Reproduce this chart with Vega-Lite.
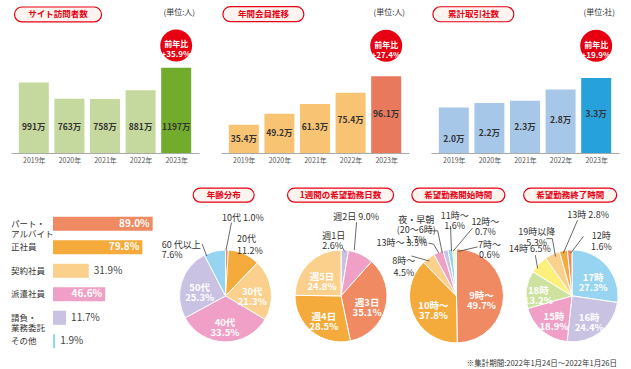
{
"$schema": "https://vega.github.io/schema/vega-lite/v6.json",
"padding": {"left": 11, "top": 4, "right": 4, "bottom": 2},
"config": {"font": "Noto Sans CJK JP", "view": {"stroke": null}, "axis": {"domain": false, "ticks": false, "labels": false, "grid": false}, "text": {"color": "#333333"}},
"title": {"text": "※集計期間:2022年1月24日～2022年1月26日", "orient": "bottom", "anchor": "end", "fontSize": 7.5, "fontWeight": "normal", "color": "#333333", "offset": 5, "dx": -10},
"spacing": 22,
"vconcat": [
{"hconcat": [
 {"width": 188, "height": 146,
  "data": {"values": [
   {"year": 2019, "v": 991, "label": "991万"},
   {"year": 2020, "v": 763, "label": "763万"},
   {"year": 2021, "v": 758, "label": "758万"},
   {"year": 2022, "v": 881, "label": "881万"},
   {"year": 2023, "v": 1197, "label": "1197万", "badge": "前年比\n+35.9%"}]},
  "layer": [
   {"mark": {"type": "bar", "size": 30},
    "encoding": {
     "x": {"field": "year", "type": "quantitative", "scale": {"domain": [2018.5, 2023.5], "nice": false, "zero": false}, "axis": {"domain": true, "labels": true, "values": [2019,2020,2021,2022,2023], "labelExpr": "datum.value + '年'", "title": null, "domainColor": "#aaaaaa", "labelFontSize": 7, "labelColor": "#555555", "labelPadding": 3}},
     "y": {"field": "v", "type": "quantitative", "title": null, "scale": {"domain": [0, 2050], "nice": false}},
     "color": {"condition": {"test": "datum.year == 2023", "value": "#72ac2c"}, "value": "#c5d89d"}}},
   {"mark": {"type": "text", "fontSize": 8.5, "fontWeight": "bold"},
    "encoding": {"x": {"field": "year", "type": "quantitative"}, "y": {"datum": 365}, "text": {"field": "label"}}},
   {"transform": [{"filter": "datum.year == 2023"}],
    "mark": {"type": "point", "shape": "circle", "size": 1020, "filled": true, "color": "#e60012", "opacity": 1},
    "encoding": {"x": {"field": "year", "type": "quantitative"}, "y": {"datum": 1510}}},
   {"transform": [{"filter": "datum.year == 2023"}],
    "mark": {"type": "text", "fontSize": 8, "fontWeight": "bold", "color": "white", "lineBreak": "\n", "lineHeight": 10},
    "encoding": {"x": {"field": "year", "type": "quantitative"}, "y": {"datum": 1510}, "text": {"field": "badge"}}},
   {"data": {"values": [{"t": "サイト訪問者数"}]},
    "mark": {"type": "point", "shape": "M -0.828 -0.172 L 0.828 -0.172 A 0.172 0.172 0 0 1 0.828 0.172 L -0.828 0.172 A 0.172 0.172 0 0 1 -0.828 -0.172 Z", "size": 7569, "filled": true, "fill": "#fff4f0", "stroke": "#e60012", "strokeWidth": 1.2, "opacity": 1},
    "encoding": {"x": {"datum": 2019.68}, "y": {"datum": 1945}}},
   {"data": {"values": [{"t": "サイト訪問者数"}]},
    "mark": {"type": "text", "fontSize": 8.5, "fontWeight": "bold", "color": "#e60012"},
    "encoding": {"x": {"datum": 2019.68}, "y": {"datum": 1945}, "text": {"field": "t"}}},
   {"data": {"values": [{"t": "(単位:人)"}]},
    "mark": {"type": "text", "fontSize": 8, "align": "right"},
    "encoding": {"x": {"datum": 2023.53}, "y": {"datum": 1966}, "text": {"field": "t"}}}
  ]},
 {"width": 188, "height": 146,
  "data": {"values": [
   {"year": 2019, "v": 35.4, "label": "35.4万"},
   {"year": 2020, "v": 49.2, "label": "49.2万"},
   {"year": 2021, "v": 61.3, "label": "61.3万"},
   {"year": 2022, "v": 75.4, "label": "75.4万"},
   {"year": 2023, "v": 96.1, "label": "96.1万", "badge": "前年比\n+27.4%"}]},
  "resolve": {"scale": {"y": "independent"}},
  "layer": [
   {"mark": {"type": "bar", "size": 30},
    "encoding": {
     "x": {"field": "year", "type": "quantitative", "scale": {"domain": [2018.5, 2023.5], "nice": false, "zero": false}, "axis": {"domain": true, "labels": true, "values": [2019,2020,2021,2022,2023], "labelExpr": "datum.value + '年'", "title": null, "domainColor": "#aaaaaa", "labelFontSize": 7, "labelColor": "#555555", "labelPadding": 3}},
     "y": {"field": "v", "type": "quantitative", "title": null, "scale": {"domain": [0, 183], "nice": false}},
     "color": {"condition": {"test": "datum.year == 2023", "value": "#e8795c"}, "value": "#f9c374"}}},
   {"mark": {"type": "text", "fontSize": 8.5, "fontWeight": "bold"},
    "encoding": {"x": {"field": "year", "type": "quantitative"}, "y": {"field": "year", "type": "quantitative", "title": null, "scale": {"domain": [2016.76, 2040.12], "nice": false, "zero": false}}, "text": {"field": "label"}}},
   {"transform": [{"filter": "datum.year == 2023"}],
    "mark": {"type": "point", "shape": "circle", "size": 1020, "filled": true, "color": "#e60012", "opacity": 1},
    "encoding": {"x": {"field": "year", "type": "quantitative"}, "y": {"datum": 134.5, "scale": {"domain": [0, 183], "nice": false}}}},
   {"transform": [{"filter": "datum.year == 2023"}],
    "mark": {"type": "text", "fontSize": 8, "fontWeight": "bold", "color": "white", "lineBreak": "\n", "lineHeight": 10},
    "encoding": {"x": {"field": "year", "type": "quantitative"}, "y": {"datum": 134.5, "scale": {"domain": [0, 183], "nice": false}}, "text": {"field": "badge"}}},
   {"data": {"values": [{"t": "年間会員推移"}]},
    "mark": {"type": "point", "shape": "M -0.815 -0.185 L 0.815 -0.185 A 0.185 0.185 0 0 1 0.815 0.185 L -0.815 0.185 A 0.185 0.185 0 0 1 -0.815 -0.185 Z", "size": 6561, "filled": true, "fill": "#fff4f0", "stroke": "#e60012", "strokeWidth": 1.2, "opacity": 1},
    "encoding": {"x": {"datum": 2019.55}, "y": {"datum": 174, "scale": {"domain": [0, 183], "nice": false}}}},
   {"data": {"values": [{"t": "年間会員推移"}]},
    "mark": {"type": "text", "fontSize": 8.5, "fontWeight": "bold", "color": "#e60012"},
    "encoding": {"x": {"datum": 2019.55}, "y": {"datum": 174, "scale": {"domain": [0, 183], "nice": false}}, "text": {"field": "t"}}},
   {"data": {"values": [{"t": "(単位:人)"}]},
    "mark": {"type": "text", "fontSize": 8, "align": "right"},
    "encoding": {"x": {"datum": 2023.53}, "y": {"datum": 175.5, "scale": {"domain": [0, 183], "nice": false}}, "text": {"field": "t"}}}
  ]},
 {"width": 188, "height": 146,
  "data": {"values": [
   {"year": 2019, "v": 2.0, "label": "2.0万"},
   {"year": 2020, "v": 2.2, "label": "2.2万"},
   {"year": 2021, "v": 2.3, "label": "2.3万"},
   {"year": 2022, "v": 2.8, "label": "2.8万"},
   {"year": 2023, "v": 3.3, "label": "3.3万", "badge": "前年比\n+19.9%"}]},
  "resolve": {"scale": {"y": "independent"}},
  "layer": [
   {"mark": {"type": "bar", "size": 30},
    "encoding": {
     "x": {"field": "year", "type": "quantitative", "scale": {"domain": [2018.5, 2023.5], "nice": false, "zero": false}, "axis": {"domain": true, "labels": true, "values": [2019,2020,2021,2022,2023], "labelExpr": "datum.value + '年'", "title": null, "domainColor": "#aaaaaa", "labelFontSize": 7, "labelColor": "#555555", "labelPadding": 3}},
     "y": {"field": "v", "type": "quantitative", "title": null, "scale": {"domain": [0, 6.43], "nice": false}},
     "color": {"condition": {"test": "datum.year == 2023", "value": "#27a1dc"}, "value": "#a7c7e9"}}},
   {"mark": {"type": "text", "fontSize": 8.5, "fontWeight": "bold"},
    "encoding": {"x": {"field": "year", "type": "quantitative"}, "y": {"field": "year", "type": "quantitative", "title": null, "scale": {"domain": [2016.76, 2040.12], "nice": false, "zero": false}}, "text": {"field": "label"}}},
   {"transform": [{"filter": "datum.year == 2023"}],
    "mark": {"type": "point", "shape": "circle", "size": 1020, "filled": true, "color": "#e60012", "opacity": 1},
    "encoding": {"x": {"field": "year", "type": "quantitative"}, "y": {"datum": 4.72, "scale": {"domain": [0, 6.43], "nice": false}}}},
   {"transform": [{"filter": "datum.year == 2023"}],
    "mark": {"type": "text", "fontSize": 8, "fontWeight": "bold", "color": "white", "lineBreak": "\n", "lineHeight": 10},
    "encoding": {"x": {"field": "year", "type": "quantitative"}, "y": {"datum": 4.72, "scale": {"domain": [0, 6.43], "nice": false}}, "text": {"field": "badge"}}},
   {"data": {"values": [{"t": "累計取引社数"}]},
    "mark": {"type": "point", "shape": "M -0.815 -0.185 L 0.815 -0.185 A 0.185 0.185 0 0 1 0.815 0.185 L -0.815 0.185 A 0.185 0.185 0 0 1 -0.815 -0.185 Z", "size": 6561, "filled": true, "fill": "#fff4f0", "stroke": "#e60012", "strokeWidth": 1.2, "opacity": 1},
    "encoding": {"x": {"datum": 2019.55}, "y": {"datum": 6.11, "scale": {"domain": [0, 6.43], "nice": false}}}},
   {"data": {"values": [{"t": "累計取引社数"}]},
    "mark": {"type": "text", "fontSize": 8.5, "fontWeight": "bold", "color": "#e60012"},
    "encoding": {"x": {"datum": 2019.55}, "y": {"datum": 6.11, "scale": {"domain": [0, 6.43], "nice": false}}, "text": {"field": "t"}}},
   {"data": {"values": [{"t": "(単位:社)"}]},
    "mark": {"type": "text", "fontSize": 8, "align": "right"},
    "encoding": {"x": {"datum": 2023.53}, "y": {"datum": 6.17, "scale": {"domain": [0, 6.43], "nice": false}}, "text": {"field": "t"}}}
  ]}
], "spacing": 22, "bounds": "flush"},
{"hconcat": [
 {"width": 154, "height": 170,
  "data": {"values": [
   {"cat": "パート・\nアルバイト", "v": 89.0, "label": "89.0%"},
   {"cat": "正社員", "v": 79.8, "label": "79.8%"},
   {"cat": "契約社員", "v": 31.9, "label": "31.9%"},
   {"cat": "派遣社員", "v": 46.6, "label": "46.6%"},
   {"cat": "請負・\n業務委託", "v": 11.7, "label": "11.7%"},
   {"cat": "その他", "v": 1.9, "label": "1.9%"}]},
  "encoding": {
   "y": {"field": "cat", "type": "nominal", "sort": null, "title": null, "scale": {"range": [27, 168], "paddingInner": 0.4, "paddingOuter": 0.2}},
   "x": {"field": "v", "type": "quantitative", "title": null, "scale": {"domain": [-37.5, 100], "nice": false}}},
  "resolve": {"scale": {"y": "independent"}},
  "layer": [
   {"mark": {"type": "bar"},
    "encoding": {"color": {"field": "cat", "type": "nominal", "sort": null, "scale": {"range": ["#ef8a62", "#f5ab3c", "#fbd08c", "#f09fc6", "#c9c2e2", "#96d4f2"]}, "legend": null}}},
   {"mark": {"type": "text", "align": "right", "dx": -3, "color": "white", "fontWeight": "bold", "fontSize": 10},
    "encoding": {"text": {"condition": {"test": "datum.v > 40", "field": "label"}, "value": ""}}},
   {"mark": {"type": "text", "align": "left", "dx": 5, "color": "#444444", "fontSize": 10},
    "encoding": {"text": {"condition": {"test": "datum.v <= 40", "field": "label"}, "value": ""}}},
   {"mark": {"type": "text", "align": "left", "fontSize": 8.5, "lineBreak": "\n", "lineHeight": 10},
    "encoding": {"x": {"datum": -37.5}, "text": {"field": "cat"}}},
   {"data": {"values": [{}]},
    "mark": {"type": "rule", "color": "#999999", "strokeWidth": 1},
    "encoding": {"x": {"datum": 0}, "y": {"datum": 1.83, "scale": {"domain": [-1.29, 2.42], "nice": false}}, "y2": {"datum": -1.24}}},
   {"data": {"values": [{"t": "経験雇用形態(複数)"}]},
    "mark": {"type": "point", "shape": "M -0.861 -0.139 L 0.861 -0.139 A 0.139 0.139 0 0 1 0.861 0.139 L -0.861 0.139 A 0.139 0.139 0 0 1 -0.861 -0.139 Z", "size": 10201, "filled": true, "fill": "#fff4f0", "stroke": "#e60012", "strokeWidth": 1.2, "opacity": 1},
    "encoding": {"x": {"datum": 26.3}, "y": {"datum": 2.2, "scale": {"domain": [-1.29, 2.42], "nice": false}}}},
   {"data": {"values": [{"t": "経験雇用形態(複数)"}]},
    "mark": {"type": "text", "fontSize": 8.5, "fontWeight": "bold", "color": "#e60012"},
    "encoding": {"x": {"datum": 26.3}, "y": {"datum": 2.2, "scale": {"domain": [-1.29, 2.42], "nice": false}}, "text": {"field": "t"}}}
  ]},
 {"width": 110, "height": 170,
  "data": {"values": [
   {"n": 1, "cat": "10代", "v": 1.0, "label": "10代 1.0%"},
   {"n": 2, "cat": "20代", "v": 11.2, "label": "20代\n11.2%"},
   {"n": 3, "cat": "30代", "v": 21.3, "label": "30代\n21.3%"},
   {"n": 4, "cat": "40代", "v": 33.5, "label": "40代\n33.5%"},
   {"n": 5, "cat": "50代", "v": 25.3, "label": "50代\n25.3%"},
   {"n": 6, "cat": "60代以上", "v": 7.6, "label": "60 代以上\n7.6%"}]},
  "encoding": {"x": {"datum": 0, "scale": {"domain": [-1.2, 1.2], "nice": false}}, "y": {"datum": 0, "scale": {"domain": [-1.29, 2.42], "nice": false}}},
  "layer": [
   {"mark": {"type": "arc", "outerRadius": 46, "stroke": "white", "strokeWidth": 1},
    "encoding": {"theta": {"field": "v", "type": "quantitative", "stack": true}, "order": {"field": "n", "type": "quantitative"},
     "color": {"field": "cat", "type": "nominal", "scale": {"domain": ["10代", "20代", "30代", "40代", "50代", "60代以上"], "range": ["#ef8a62", "#f5ab3c", "#fbd08c", "#f09fc6", "#c9c2e2", "#96d4f2"]}, "legend": null}}},
   {"mark": {"type": "text", "radius": 27, "fontSize": 9.5, "fontWeight": "bold", "color": "white", "lineBreak": "\n", "lineHeight": 10},
    "encoding": {"theta": {"field": "v", "type": "quantitative", "stack": true}, "order": {"field": "n", "type": "quantitative"}, "text": {"condition": {"test": "datum.v > 15", "field": "label"}, "value": ""}}},
   {"transform": [{"filter": "datum.cat == '10代'"}], "mark": {"type": "text", "fontSize": 9}, "encoding": {"x": {"datum": 0.38}, "y": {"datum": 1.70}, "text": {"field": "label"}}},
   {"transform": [{"filter": "datum.cat == '20代'"}], "mark": {"type": "text", "fontSize": 9, "align": "left", "lineBreak": "\n", "lineHeight": 12}, "encoding": {"x": {"datum": 0.25}, "y": {"datum": 1.25}, "text": {"field": "label"}}},
   {"transform": [{"filter": "datum.cat == '60代以上'"}], "mark": {"type": "text", "fontSize": 9, "align": "left", "lineBreak": "\n", "lineHeight": 10.5}, "encoding": {"x": {"datum": -1.39}, "y": {"datum": 1.12}, "text": {"field": "label"}}},
   {"data": {"values": [{}]}, "mark": {"type": "rule", "color": "#444444", "strokeWidth": 0.8}, "encoding": {"x": {"datum": 0.13}, "y": {"datum": 1.60}, "x2": {"datum": 0.01}, "y2": {"datum": 0.99}}},
   {"data": {"values": [{}]}, "mark": {"type": "rule", "color": "#444444", "strokeWidth": 0.8}, "encoding": {"x": {"datum": -0.51}, "y": {"datum": 1.13}, "x2": {"datum": -0.41}, "y2": {"datum": 0.87}}},
   {"data": {"values": [{"t": "年齢分布"}]},
    "mark": {"type": "point", "shape": "M -0.770 -0.230 L 0.770 -0.230 A 0.230 0.230 0 0 1 0.770 0.230 L -0.770 0.230 A 0.230 0.230 0 0 1 -0.770 -0.230 Z", "size": 3721, "filled": true, "fill": "#fff4f0", "stroke": "#e60012", "strokeWidth": 1.2, "opacity": 1},
    "encoding": {"x": {"datum": -0.04}, "y": {"datum": 2.2}}},
   {"data": {"values": [{"t": "年齢分布"}]},
    "mark": {"type": "text", "fontSize": 8.5, "fontWeight": "bold", "color": "#e60012"},
    "encoding": {"x": {"datum": -0.04}, "y": {"datum": 2.2}, "text": {"field": "t"}}}
  ]},
 {"width": 110, "height": 170,
  "data": {"values": [
   {"n": 1, "cat": "週1日", "v": 2.6, "label": "週1日\n2.6%"},
   {"n": 2, "cat": "週2日", "v": 9.0, "label": "週2日 9.0%"},
   {"n": 3, "cat": "週3日", "v": 35.1, "label": "週3日\n35.1%"},
   {"n": 4, "cat": "週4日", "v": 28.5, "label": "週4日\n28.5%"},
   {"n": 5, "cat": "週5日", "v": 24.8, "label": "週5日\n24.8%"}]},
  "encoding": {"x": {"datum": 0, "scale": {"domain": [-1.2, 1.2], "nice": false}}, "y": {"datum": 0, "scale": {"domain": [-1.29, 2.42], "nice": false}}},
  "layer": [
   {"mark": {"type": "arc", "outerRadius": 46, "stroke": "white", "strokeWidth": 1},
    "encoding": {"theta": {"field": "v", "type": "quantitative", "stack": true}, "order": {"field": "n", "type": "quantitative"},
     "color": {"field": "cat", "type": "nominal", "scale": {"domain": ["週1日", "週2日", "週3日", "週4日", "週5日"], "range": ["#c9c2e2", "#f09fc6", "#ef8a62", "#f5ab3c", "#fbd08c"]}, "legend": null}}},
   {"mark": {"type": "text", "radius": 27, "fontSize": 9.5, "fontWeight": "bold", "color": "white", "lineBreak": "\n", "lineHeight": 10},
    "encoding": {"theta": {"field": "v", "type": "quantitative", "stack": true}, "order": {"field": "n", "type": "quantitative"}, "text": {"condition": {"test": "datum.v > 15", "field": "label"}, "value": ""}}},
   {"transform": [{"filter": "datum.cat == '週2日'"}], "mark": {"type": "text", "fontSize": 9}, "encoding": {"x": {"datum": 0.33}, "y": {"datum": 1.73}, "text": {"field": "label"}}},
   {"transform": [{"filter": "datum.cat == '週1日'"}], "mark": {"type": "text", "fontSize": 9, "align": "left", "lineBreak": "\n", "lineHeight": 10}, "encoding": {"x": {"datum": -0.41}, "y": {"datum": 1.31}, "text": {"field": "label"}}},
   {"data": {"values": [{}]}, "mark": {"type": "rule", "color": "#444444", "strokeWidth": 0.8}, "encoding": {"x": {"datum": 0.34}, "y": {"datum": 1.61}, "x2": {"datum": 0.29}, "y2": {"datum": 1.0}}},
   {"data": {"values": [{}]}, "mark": {"type": "rule", "color": "#444444", "strokeWidth": 0.8}, "encoding": {"x": {"datum": 0.03}, "y": {"datum": 1.06}, "x2": {"datum": 0.08}, "y2": {"datum": 0.97}}},
   {"data": {"values": [{"t": "1週間の希望勤務日数"}]},
    "mark": {"type": "point", "shape": "M -0.868 -0.132 L 0.868 -0.132 A 0.132 0.132 0 0 1 0.868 0.132 L -0.868 0.132 A 0.132 0.132 0 0 1 -0.868 -0.132 Z", "size": 11236, "filled": true, "fill": "#fff4f0", "stroke": "#e60012", "strokeWidth": 1.2, "opacity": 1},
    "encoding": {"x": {"datum": -0.01}, "y": {"datum": 2.2}}},
   {"data": {"values": [{"t": "1週間の希望勤務日数"}]},
    "mark": {"type": "text", "fontSize": 8.5, "fontWeight": "bold", "color": "#e60012"},
    "encoding": {"x": {"datum": -0.01}, "y": {"datum": 2.2}, "text": {"field": "t"}}}
  ]},
 {"width": 110, "height": 170,
  "data": {"values": [
   {"n": 1, "cat": "9時～", "v": 49.7, "label": "9時～\n49.7%"},
   {"n": 2, "cat": "10時～", "v": 37.8, "label": "10時～\n37.8%"},
   {"n": 3, "cat": "8時～", "v": 4.5, "label": "8時～\n4.5%"},
   {"n": 4, "cat": "13時～", "v": 3.3, "label": "13時～ 3.3%"},
   {"n": 5, "cat": "夜・早朝", "v": 1.7, "label": "夜・早朝\n(20～6時)\n1.7%"},
   {"n": 6, "cat": "11時～", "v": 1.6, "label": "11時～\n1.6%"},
   {"n": 7, "cat": "12時～", "v": 0.7, "label": "12時～\n0.7%"},
   {"n": 8, "cat": "7時～", "v": 0.6, "label": "7時～\n0.6%"}]},
  "encoding": {"x": {"datum": 0, "scale": {"domain": [-1.2, 1.2], "nice": false}}, "y": {"datum": 0, "scale": {"domain": [-1.29, 2.42], "nice": false}}},
  "layer": [
   {"mark": {"type": "arc", "outerRadius": 47, "stroke": "white", "strokeWidth": 1},
    "encoding": {"theta": {"field": "v", "type": "quantitative", "stack": true}, "order": {"field": "n", "type": "quantitative"},
     "color": {"field": "cat", "type": "nominal", "scale": {"domain": ["9時～", "10時～", "8時～", "13時～", "夜・早朝", "11時～", "12時～", "7時～"], "range": ["#ef8a62", "#f5ab3c", "#fbd08c", "#f09fc6", "#c9c2e2", "#96d4f2", "#cde29e", "#fdf07a"]}, "legend": null}}},
   {"mark": {"type": "text", "radius": 25, "fontSize": 9.5, "fontWeight": "bold", "color": "white", "lineBreak": "\n", "lineHeight": 10},
    "encoding": {"theta": {"field": "v", "type": "quantitative", "stack": true}, "order": {"field": "n", "type": "quantitative"}, "text": {"condition": {"test": "datum.v > 15", "field": "label"}, "value": ""}}},
   {"transform": [{"filter": "datum.cat == '夜・早朝'"}], "mark": {"type": "text", "fontSize": 9, "lineBreak": "\n", "lineHeight": 10}, "encoding": {"x": {"datum": -0.88}, "y": {"datum": 1.66}, "text": {"field": "label"}}},
   {"transform": [{"filter": "datum.cat == '11時～'"}], "mark": {"type": "text", "fontSize": 9, "lineBreak": "\n", "lineHeight": 10}, "encoding": {"x": {"datum": -0.04}, "y": {"datum": 1.75}, "text": {"field": "label"}}},
   {"transform": [{"filter": "datum.cat == '12時～'"}], "mark": {"type": "text", "fontSize": 9, "lineBreak": "\n", "lineHeight": 10}, "encoding": {"x": {"datum": 0.63}, "y": {"datum": 1.61}, "text": {"field": "label"}}},
   {"transform": [{"filter": "datum.cat == '7時～'"}], "mark": {"type": "text", "fontSize": 9, "lineBreak": "\n", "lineHeight": 10}, "encoding": {"x": {"datum": 0.72}, "y": {"datum": 1.10}, "text": {"field": "label"}}},
   {"transform": [{"filter": "datum.cat == '13時～'"}], "mark": {"type": "text", "fontSize": 9}, "encoding": {"x": {"datum": -1.19}, "y": {"datum": 1.15}, "text": {"field": "label"}}},
   {"transform": [{"filter": "datum.cat == '8時～'"}], "mark": {"type": "text", "fontSize": 9, "lineBreak": "\n", "lineHeight": 12}, "encoding": {"x": {"datum": -1.15}, "y": {"datum": 0.77}, "text": {"field": "label"}}},
   {"data": {"values": [{}]}, "mark": {"type": "rule", "color": "#444444", "strokeWidth": 0.8}, "encoding": {"x": {"datum": -0.61}, "y": {"datum": 1.42}, "x2": {"datum": -0.41}, "y2": {"datum": 1.42}}},
   {"data": {"values": [{}]}, "mark": {"type": "rule", "color": "#444444", "strokeWidth": 0.8}, "encoding": {"x": {"datum": -0.41}, "y": {"datum": 1.42}, "x2": {"datum": -0.31}, "y2": {"datum": 0.94}}},
   {"data": {"values": [{}]}, "mark": {"type": "rule", "color": "#444444", "strokeWidth": 0.8}, "encoding": {"x": {"datum": -0.13}, "y": {"datum": 1.53}, "x2": {"datum": -0.11}, "y2": {"datum": 0.98}}},
   {"data": {"values": [{}]}, "mark": {"type": "rule", "color": "#444444", "strokeWidth": 0.8}, "encoding": {"x": {"datum": 0.35}, "y": {"datum": 1.48}, "x2": {"datum": -0.07}, "y2": {"datum": 0.98}}},
   {"data": {"values": [{}]}, "mark": {"type": "rule", "color": "#444444", "strokeWidth": 0.8}, "encoding": {"x": {"datum": 0.46}, "y": {"datum": 1.07}, "x2": {"datum": 0.04}, "y2": {"datum": 0.97}}},
   {"data": {"values": [{}]}, "mark": {"type": "rule", "color": "#444444", "strokeWidth": 0.8}, "encoding": {"x": {"datum": -0.61}, "y": {"datum": 1.15}, "x2": {"datum": -0.50}, "y2": {"datum": 1.13}}},
   {"data": {"values": [{}]}, "mark": {"type": "rule", "color": "#444444", "strokeWidth": 0.8}, "encoding": {"x": {"datum": -0.50}, "y": {"datum": 1.13}, "x2": {"datum": -0.39}, "y2": {"datum": 0.94}}},
   {"data": {"values": [{}]}, "mark": {"type": "rule", "color": "#444444", "strokeWidth": 0.8}, "encoding": {"x": {"datum": -0.98}, "y": {"datum": 0.87}, "x2": {"datum": -0.59}, "y2": {"datum": 0.76}}},
   {"data": {"values": [{"t": "希望勤務開始時間"}]},
    "mark": {"type": "point", "shape": "M -0.849 -0.151 L 0.849 -0.151 A 0.151 0.151 0 0 1 0.849 0.151 L -0.849 0.151 A 0.151 0.151 0 0 1 -0.849 -0.151 Z", "size": 8649, "filled": true, "fill": "#fff4f0", "stroke": "#e60012", "strokeWidth": 1.2, "opacity": 1},
    "encoding": {"x": {"datum": 0.04}, "y": {"datum": 2.2}}},
   {"data": {"values": [{"t": "希望勤務開始時間"}]},
    "mark": {"type": "text", "fontSize": 8.5, "fontWeight": "bold", "color": "#e60012"},
    "encoding": {"x": {"datum": 0.04}, "y": {"datum": 2.2}, "text": {"field": "t"}}}
  ]},
 {"width": 110, "height": 170,
  "data": {"values": [
   {"n": 1, "cat": "17時", "v": 27.3, "label": "17時\n27.3%"},
   {"n": 2, "cat": "16時", "v": 24.4, "label": "16時\n24.4%"},
   {"n": 3, "cat": "15時", "v": 18.9, "label": "15時\n18.9%"},
   {"n": 4, "cat": "18時", "v": 13.2, "label": "18時\n13.2%"},
   {"n": 5, "cat": "14時", "v": 6.5, "label": "14時 6.5%"},
   {"n": 6, "cat": "19時以降", "v": 5.3, "label": "19時以降\n5.3%"},
   {"n": 7, "cat": "13時", "v": 2.8, "label": "13時 2.8%"},
   {"n": 8, "cat": "12時", "v": 1.6, "label": "12時\n1.6%"}]},
  "encoding": {"x": {"datum": 0, "scale": {"domain": [-1.2, 1.2], "nice": false}}, "y": {"datum": 0, "scale": {"domain": [-1.29, 2.42], "nice": false}}},
  "layer": [
   {"mark": {"type": "arc", "outerRadius": 46, "stroke": "white", "strokeWidth": 1},
    "encoding": {"theta": {"field": "v", "type": "quantitative", "stack": true}, "order": {"field": "n", "type": "quantitative"},
     "color": {"field": "cat", "type": "nominal", "scale": {"domain": ["17時", "16時", "15時", "18時", "14時", "19時以降", "13時", "12時"], "range": ["#96d4f2", "#c9c2e2", "#f09fc6", "#cde29e", "#fdf07a", "#fbd08c", "#f5ab3c", "#ef8a62"]}, "legend": null}}},
   {"mark": {"type": "text", "radius": 28, "fontSize": 9.5, "fontWeight": "bold", "color": "white", "lineBreak": "\n", "lineHeight": 10},
    "encoding": {"theta": {"field": "v", "type": "quantitative", "stack": true}, "order": {"field": "n", "type": "quantitative"}, "text": {"condition": {"test": "datum.v > 15", "field": "label"}, "value": ""}}},
   {"mark": {"type": "text", "radius": 34, "fontSize": 9.5, "fontWeight": "bold", "color": "white", "lineBreak": "\n", "lineHeight": 10},
    "encoding": {"theta": {"field": "v", "type": "quantitative", "stack": true}, "order": {"field": "n", "type": "quantitative"}, "text": {"condition": {"test": "datum.v > 10 && datum.v < 15", "field": "label"}, "value": ""}}},
   {"transform": [{"filter": "datum.cat == '14時'"}], "mark": {"type": "text", "fontSize": 9}, "encoding": {"x": {"datum": -0.92}, "y": {"datum": 1.03}, "text": {"field": "label"}}},
   {"transform": [{"filter": "datum.cat == '19時以降'"}], "mark": {"type": "text", "fontSize": 9, "lineBreak": "\n", "lineHeight": 11}, "encoding": {"x": {"datum": -0.77}, "y": {"datum": 1.40}, "text": {"field": "label"}}},
   {"transform": [{"filter": "datum.cat == '13時'"}], "mark": {"type": "text", "fontSize": 9}, "encoding": {"x": {"datum": 0.35}, "y": {"datum": 1.76}, "text": {"field": "label"}}},
   {"transform": [{"filter": "datum.cat == '12時'"}], "mark": {"type": "text", "fontSize": 9, "lineBreak": "\n", "lineHeight": 11}, "encoding": {"x": {"datum": 0.64}, "y": {"datum": 1.30}, "text": {"field": "label"}}},
   {"data": {"values": [{}]}, "mark": {"type": "rule", "color": "#444444", "strokeWidth": 0.8}, "encoding": {"x": {"datum": -0.80}, "y": {"datum": 0.89}, "x2": {"datum": -0.75}, "y2": {"datum": 0.60}}},
   {"data": {"values": [{}]}, "mark": {"type": "rule", "color": "#444444", "strokeWidth": 0.8}, "encoding": {"x": {"datum": -0.56}, "y": {"datum": 1.25}, "x2": {"datum": -0.43}, "y2": {"datum": 1.25}}},
   {"data": {"values": [{}]}, "mark": {"type": "rule", "color": "#444444", "strokeWidth": 0.8}, "encoding": {"x": {"datum": -0.43}, "y": {"datum": 1.25}, "x2": {"datum": -0.36}, "y2": {"datum": 0.86}}},
   {"data": {"values": [{}]}, "mark": {"type": "rule", "color": "#444444", "strokeWidth": 0.8}, "encoding": {"x": {"datum": 0.12}, "y": {"datum": 1.65}, "x2": {"datum": -0.19}, "y2": {"datum": 0.93}}},
   {"data": {"values": [{}]}, "mark": {"type": "rule", "color": "#444444", "strokeWidth": 0.8}, "encoding": {"x": {"datum": 0.25}, "y": {"datum": 1.30}, "x2": {"datum": -0.03}, "y2": {"datum": 0.93}}},
   {"data": {"values": [{"t": "希望勤務終了時間"}]},
    "mark": {"type": "point", "shape": "M -0.849 -0.151 L 0.849 -0.151 A 0.151 0.151 0 0 1 0.849 0.151 L -0.849 0.151 A 0.151 0.151 0 0 1 -0.849 -0.151 Z", "size": 8649, "filled": true, "fill": "#fff4f0", "stroke": "#e60012", "strokeWidth": 1.2, "opacity": 1},
    "encoding": {"x": {"datum": -0.04}, "y": {"datum": 2.2}}},
   {"data": {"values": [{"t": "希望勤務終了時間"}]},
    "mark": {"type": "text", "fontSize": 8.5, "fontWeight": "bold", "color": "#e60012"},
    "encoding": {"x": {"datum": -0.04}, "y": {"datum": 2.2}, "text": {"field": "t"}}}
  ]}
], "spacing": 5.5, "bounds": "flush", "resolve": {"scale": {"color": "independent", "theta": "independent"}}}
]
}
